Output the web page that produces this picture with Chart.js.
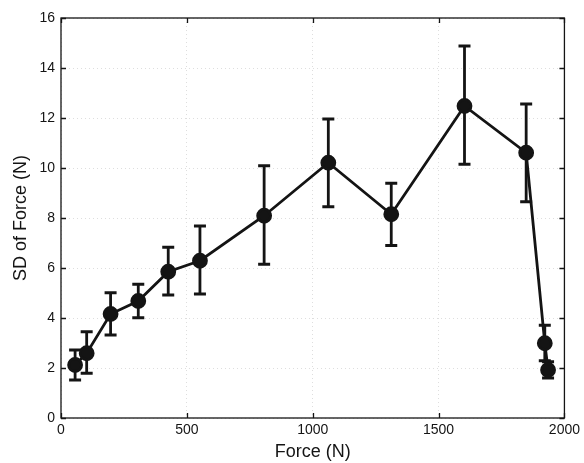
<!DOCTYPE html>
<html>
<head>
<meta charset="utf-8">
<script src="https://cdn.jsdelivr.net/npm/chart.js@4/dist/chart.umd.min.js"></script>
<style>
html,body{margin:0;padding:0;background:#fff;}
#wrap{width:584px;height:463px;}
</style>
</head>
<body>
<div id="wrap"><canvas id="c" width="584" height="463"></canvas></div>
<script>
const force   = [56, 102, 197, 307, 426, 552, 807, 1062, 1312, 1603, 1848, 1922, 1935];
const sdForce = [2.12, 2.59, 4.16, 4.68, 5.85, 6.29, 8.09, 10.21, 8.15, 12.48, 10.61, 2.99, 1.92];
const errHigh = [2.72, 3.45, 5.01, 5.35, 6.83, 7.68, 10.09, 11.96, 9.39, 14.88, 12.56, 3.71, 2.25];
const errLow  = [1.52, 1.79, 3.32, 4.01, 4.92, 4.96, 6.15, 8.45, 6.90, 10.15, 8.65, 2.29, 1.60];
const xTicks = [0, 500, 1000, 1500, 2000];
const yTicks = [0, 2, 4, 6, 8, 10, 12, 14, 16];

const INK = '#141414';
const FONT = '"Liberation Sans", Arial, sans-serif';

const frame = {
  id: 'frame',
  beforeDatasetsDraw(chart) {
    const {ctx, scales: {x, y}} = chart;
    ctx.save();
    ctx.strokeStyle = INK;
    ctx.lineWidth = 2.8;
    ctx.lineCap = 'butt';
    for (let i = 0; i < force.length; i++) {
      const px = x.getPixelForValue(force[i]);
      const pt = y.getPixelForValue(errHigh[i]);
      const pb = y.getPixelForValue(errLow[i]);
      ctx.beginPath();
      ctx.moveTo(px, pt); ctx.lineTo(px, pb);
      ctx.moveTo(px - 6, pt); ctx.lineTo(px + 6, pt);
      ctx.moveTo(px - 6, pb); ctx.lineTo(px + 6, pb);
      ctx.stroke();
    }
    ctx.restore();
  },
  afterDraw(chart) {
    const {ctx, chartArea: a, scales: {x, y}} = chart;
    ctx.save();
    ctx.strokeStyle = INK;
    ctx.lineWidth = 1.3;
    ctx.strokeRect(a.left, a.top, a.right - a.left, a.bottom - a.top);
    ctx.beginPath();
    for (const v of xTicks) {
      const px = Math.round(x.getPixelForValue(v)) + 0.5;
      ctx.moveTo(px, a.bottom); ctx.lineTo(px, a.bottom - 5);
      ctx.moveTo(px, a.top); ctx.lineTo(px, a.top + 5);
    }
    for (const v of yTicks) {
      const py = Math.round(y.getPixelForValue(v)) + 0.5;
      ctx.moveTo(a.left, py); ctx.lineTo(a.left + 5, py);
      ctx.moveTo(a.right, py); ctx.lineTo(a.right - 5, py);
    }
    ctx.stroke();
    ctx.restore();
  }
};

new Chart(document.getElementById('c'), {
  type: 'scatter',
  data: {
    datasets: [{
      data: force.map((f, i) => ({x: f, y: sdForce[i]})),
      showLine: true,
      borderColor: INK,
      borderWidth: 2.8,
      backgroundColor: INK,
      pointBackgroundColor: INK,
      pointBorderColor: INK,
      pointRadius: 6.5,
      pointHoverRadius: 6.5,
      tension: 0
    }]
  },
  plugins: [frame],
  options: {
    responsive: false,
    animation: false,
    events: [],
    layout: {padding: {top: 18, right: 18, left: 0, bottom: 0}},
    plugins: {legend: {display: false}, tooltip: {enabled: false}},
    scales: {
      x: {
        type: 'linear', min: 0, max: 2000,
        afterBuildTicks: s => { s.ticks = xTicks.map(v => ({value: v})); },
        afterFit: s => { s.height = 45; },
        border: {display: false},
        grid: {display: true, drawTicks: false, color: 'rgba(0,0,0,0.13)', lineWidth: 1},
        border: {display: false, dash: [1, 3]},
        ticks: {color: INK, font: {family: FONT, size: 14}, padding: 4, maxRotation: 0, callback: v => String(v)},
        title: {display: true, text: 'Force (N)', color: INK, font: {family: FONT, size: 18}, padding: {top: 2, bottom: 0}}
      },
      y: {
        type: 'linear', min: 0, max: 16,
        afterBuildTicks: s => { s.ticks = yTicks.map(v => ({value: v})); },
        afterFit: s => { s.width = 61; },
        grid: {display: true, drawTicks: false, color: 'rgba(0,0,0,0.13)', lineWidth: 1},
        border: {display: false, dash: [1, 3]},
        ticks: {color: INK, font: {family: FONT, size: 14}, padding: 6, callback: v => String(v)},
        title: {display: true, text: 'SD of Force (N)', color: INK, font: {family: FONT, size: 18}, padding: {top: 10, bottom: 0}}
      }
    }
  }
});
</script>
</body>
</html>
